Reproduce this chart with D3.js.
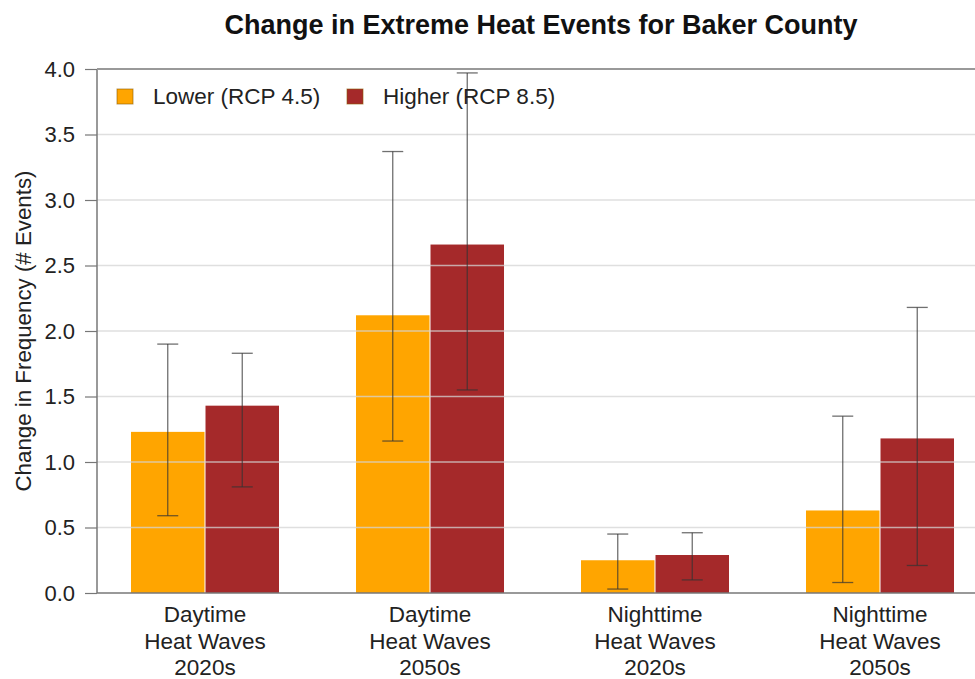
<!DOCTYPE html>
<html><head><meta charset="utf-8">
<script src="https://cdn.jsdelivr.net/npm/d3@7"></script>
<style>body{margin:0;background:#fff}svg{display:block;font-family:"Liberation Sans",Arial,sans-serif}</style>
</head><body>
<svg id="c" width="975" height="679"></svg>
<script>
const categories = [["Daytime","Heat Waves","2020s"],["Daytime","Heat Waves","2050s"],["Nighttime","Heat Waves","2020s"],["Nighttime","Heat Waves","2050s"]];
const seriesNames = ["Lower (RCP 4.5)","Higher (RCP 8.5)"];
const lowerValues = [1.23, 2.12, 0.25, 0.63];
const lowerErrLow = [0.59, 1.16, 0.03, 0.08];
const lowerErrHigh = [1.90, 3.37, 0.45, 1.35];
const higherValues = [1.43, 2.66, 0.29, 1.18];
const higherErrLow = [0.81, 1.55, 0.10, 0.21];
const higherErrHigh = [1.83, 3.97, 0.46, 2.18];
const yTicks = [0,0.5,1,1.5,2,2.5,3,3.5,4];
const colors = ["#FFA500","#A5292A"];

(function(){
const svg = d3.select("#c");
const mLeft = 97, mRight = 975, mTop = 69, mBottom = 593;
const y = d3.scaleLinear().domain([0,4]).range([mBottom, mTop]);
const x0 = d3.scaleBand().domain(d3.range(categories.length)).range([92.5, 992.5]).paddingInner(0.3422).paddingOuter(0.1711);
const x1 = d3.scaleBand().domain([0,1]).range([0, x0.bandwidth()]).paddingInner(0.0135);

const series = [
  {vals: lowerValues, lo: lowerErrLow, hi: lowerErrHigh},
  {vals: higherValues, lo: higherErrLow, hi: higherErrHigh}
];

// bars
series.forEach((s, si) => {
  svg.append("g").selectAll("rect").data(s.vals).join("rect")
    .attr("x", (d,i) => x0(i) + x1(si))
    .attr("y", d => y(d))
    .attr("width", x1.bandwidth())
    .attr("height", d => y(0) - y(d))
    .attr("fill", colors[si]);
});

// gridlines over bars
svg.append("g").selectAll("line").data(yTicks.filter(t => t>0 && t<4)).join("line")
  .attr("x1", mLeft).attr("x2", mRight)
  .attr("y1", d => y(d)).attr("y2", d => y(d))
  .attr("stroke", "#d4d4d4").attr("stroke-opacity", 0.75).attr("stroke-width", 1.5);

// error bars
const capW = 21;
series.forEach((s, si) => {
  const g = svg.append("g").attr("stroke", "#333").attr("stroke-opacity", 0.7).attr("stroke-width", 1.3);
  s.vals.forEach((d,i) => {
    const cx = x0(i) + x1(si) + x1.bandwidth()/2;
    g.append("line").attr("x1", cx).attr("x2", cx).attr("y1", y(s.lo[i])).attr("y2", y(s.hi[i]));
    g.append("line").attr("x1", cx-capW/2).attr("x2", cx+capW/2).attr("y1", y(s.lo[i])).attr("y2", y(s.lo[i]));
    g.append("line").attr("x1", cx-capW/2).attr("x2", cx+capW/2).attr("y1", y(s.hi[i])).attr("y2", y(s.hi[i]));
  });
});

// y axis
const yAxis = svg.append("g").attr("transform", `translate(${mLeft},0)`)
  .call(d3.axisLeft(y).tickValues(yTicks).tickFormat(d3.format(".1f")).tickSize(12).tickPadding(10));
yAxis.select(".domain").remove();
yAxis.selectAll(".tick line").attr("stroke", "#777").attr("stroke-width", 1.2);
yAxis.selectAll(".tick text").attr("font-size", 22).attr("fill", "#222").attr("font-family", "Liberation Sans, Arial, sans-serif");

// frame lines
svg.append("line").attr("x1", mLeft).attr("x2", mLeft).attr("y1", mTop).attr("y2", mBottom).attr("stroke", "#777").attr("stroke-width", 1.5);
svg.append("line").attr("x1", mLeft).attr("x2", mRight).attr("y1", mBottom).attr("y2", mBottom).attr("stroke", "#777").attr("stroke-width", 1.5);
svg.append("line").attr("x1", mLeft).attr("x2", mRight).attr("y1", mTop).attr("y2", mTop).attr("stroke", "#999").attr("stroke-width", 2);

// x labels
categories.forEach((lines, i) => {
  const t = svg.append("text").attr("text-anchor", "middle").attr("font-size", 22.5).attr("fill", "#222");
  lines.forEach((ln, k) => {
    t.append("tspan").attr("x", x0(i) + x0.bandwidth()/2).attr("y", 622 + k*26.5).text(ln);
  });
});

// y label
svg.append("text").attr("transform", "translate(31,331) rotate(-90)").attr("text-anchor", "middle")
  .attr("font-size", 22.3).attr("fill", "#222").text("Change in Frequency (# Events)");

// title
svg.append("text").attr("x", 541).attr("y", 34).attr("text-anchor", "middle")
  .attr("font-size", 27).attr("font-weight", "bold").attr("fill", "#111")
  .text("Change in Extreme Heat Events for Baker County");

// legend
const legX = [117, 347];
seriesNames.forEach((n, i) => {
  svg.append("rect").attr("x", legX[i]).attr("y", 89).attr("width", 16).attr("height", 15)
    .attr("fill", colors[i]).attr("stroke", "#8a5a00").attr("stroke-opacity", 0.6).attr("stroke-width", 1);
  svg.append("text").attr("x", legX[i] + 36).attr("y", 104).attr("font-size", 22.5).attr("fill", "#222").text(n);
});
})();
</script>
</body></html>
